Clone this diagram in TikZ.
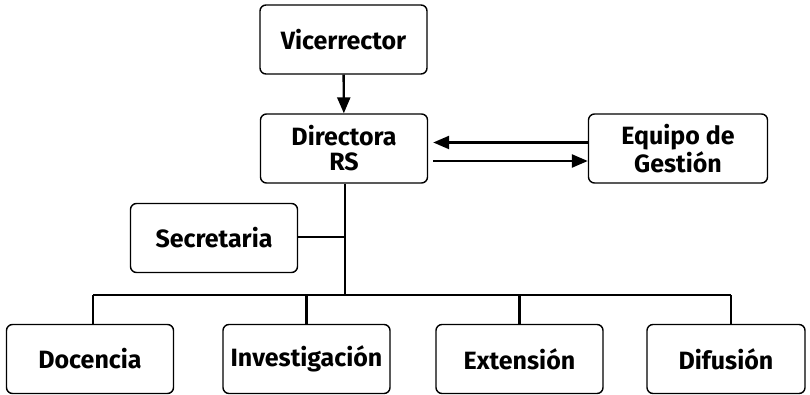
\documentclass[tikz,border=0pt]{standalone}
\usepackage{fontspec}
\setmainfont{Fira Sans}
\usetikzlibrary{arrows.meta}

\tikzset{
  caja/.style={draw, line width=1.4pt, rounded corners=6pt, minimum width=167pt,
    minimum height=69pt, align=center, font=\fontsize{25}{25}\selectfont\bfseries},
  linea/.style={line width=2.4pt},
  flecha/.style={line width=2.4pt, -{Triangle[length=16pt,width=13pt]}}
}

\begin{document}
\begin{tikzpicture}[x=1pt,y=-1pt]
\useasboundingbox (0,0) rectangle (810,395);
\node[caja] (vice) at (343.5,39.5) {Vicerrector};
\node[caja] (dir) at (344,148.5) {Directora\\RS};
\node[caja, minimum width=179pt] (equipo) at (678,148.5) {Equipo de\\Gesti\'on};
\node[caja] (secre) at (214,238) {Secretaria};
\node[caja] (doc) at (90,359) {Docencia};
\node[caja] (inv) at (306.5,359) {Investigaci\'on};
\node[caja] (ext) at (519.5,359) {Extensi\'on};
\node[caja, minimum width=158pt] (dif) at (726,359) {Difusi\'on};
\coordinate (nudo) at (345,295);
\coordinate (cruce) at (345,237);

\draw[flecha] (vice) -- (dir);
\draw[flecha] (equipo.west |- 0,142.5) -- ([xshift=5pt]dir.east |- 0,142.5);
\draw[flecha] ([xshift=5pt]dir.east |- 0,161) -- (equipo.west |- 0,161);
\draw[linea] (dir.south -| nudo) -- (nudo);
\draw[linea] (secre.east |- cruce) -- (cruce);
\draw[linea] (nudo -| 93,0) -- (nudo -| 731,0);
\draw[linea] (93,295) -- (doc.north -| 93,0);
\draw[linea] (inv.north |- nudo) -- (inv.north);
\draw[linea] (ext.north |- nudo) -- (ext.north);
\draw[linea] (731,295) -- (dif.north -| 731,0);
\end{tikzpicture}
\end{document}
